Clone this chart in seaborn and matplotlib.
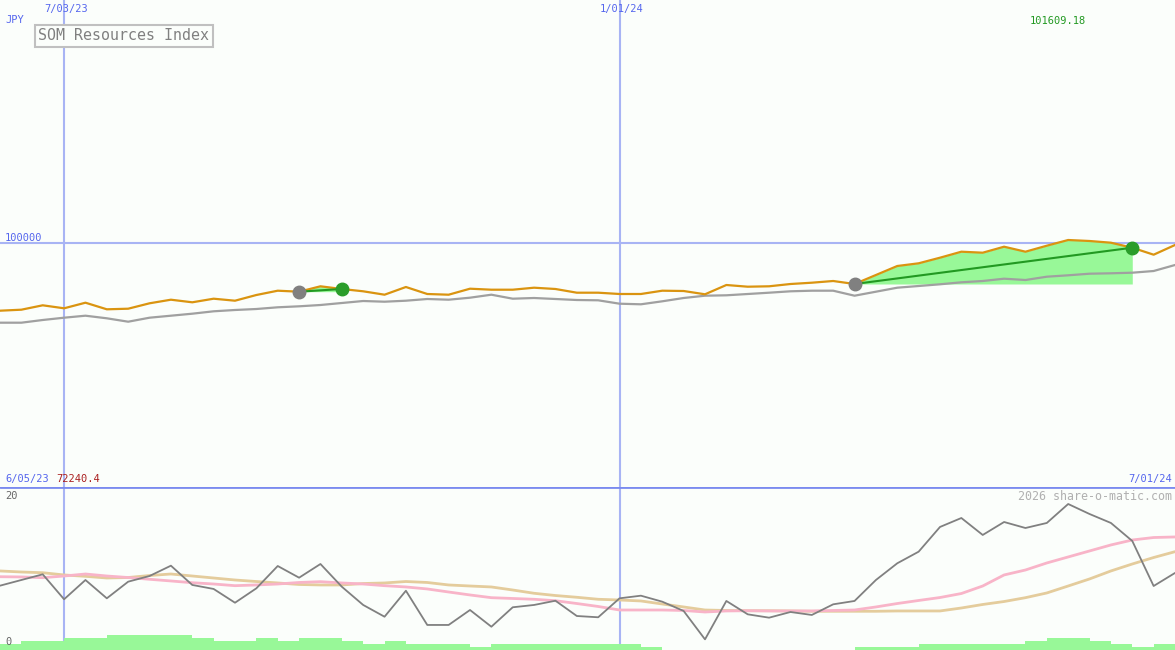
import numpy as np
import pandas as pd
import matplotlib
matplotlib.use("Agg")
import matplotlib.pyplot as plt
import seaborn as sns

# weekly points, 6/05/23 .. 7/01/24
weeks = list(range(56))

close = [92298, 92412, 92912, 92571, 93208, 92457, 92525, 93140, 93549, 93253,
         93663, 93435, 94084, 94573, 94459, 95074, 94767, 94505, 94118, 94994,
         94198, 94118, 94801, 94687, 94687, 94914, 94767, 94346, 94346, 94198,
         94198, 94573, 94539, 94164, 95222, 95028, 95074, 95335, 95483, 95677,
         95335, 96359, 97383, 97690, 98328, 99010, 98896, 99579, 99010, 99693,
         100341, 100228, 100034, 99465, 98669, 99772]

average = [90933, 90933, 91240, 91501, 91729, 91433, 91046, 91501, 91729, 91957,
           92230, 92378, 92491, 92685, 92798, 92946, 93174, 93401, 93321, 93435,
           93629, 93549, 93777, 94118, 93663, 93743, 93629, 93515, 93481, 93094,
           93026, 93367, 93743, 94004, 94050, 94198, 94346, 94505, 94573, 94573,
           94004, 94459, 94915, 95108, 95301, 95529, 95677, 95938, 95790, 96166,
           96325, 96507, 96553, 96621, 96814, 97497]

osc = [8.04, 8.75, 9.46, 6.34, 8.75, 6.46, 8.54, 9.25, 10.54, 8.13,
       7.63, 5.91, 7.71, 10.5, 9.04, 10.75, 7.91, 5.63, 4.16, 7.41,
       3.13, 3.13, 5.0, 2.91, 5.34, 5.63, 6.16, 4.25, 4.09, 6.46,
       6.79, 6.04, 4.88, 1.33, 6.13, 4.46, 4.04, 4.75, 4.38, 5.71,
       6.13, 8.75, 10.84, 12.29, 15.38, 16.5, 14.38, 16.0, 15.25, 15.88,
       18.25, 17.0, 15.88, 13.63, 8.0, 9.63]

osc_fast = [9.16, 9.13, 9.04, 9.25, 9.5, 9.25, 9.06, 8.84, 8.63, 8.41,
            8.25, 8.04, 8.13, 8.25, 8.44, 8.54, 8.38, 8.25, 8.04, 7.88,
            7.63, 7.25, 6.88, 6.54, 6.44, 6.34, 6.16, 5.81, 5.44, 5.0,
            5.0, 5.0, 4.94, 4.75, 4.88, 4.91, 4.88, 4.88, 4.88, 4.94,
            5.0, 5.38, 5.81, 6.19, 6.56, 7.06, 8.0, 9.38, 10.0, 10.88,
            11.63, 12.38, 13.13, 13.75, 14.06, 14.13]

osc_slow = [9.88, 9.75, 9.66, 9.38, 9.21, 9.0, 9.06, 9.31, 9.5, 9.25,
            9.0, 8.75, 8.56, 8.38, 8.19, 8.13, 8.13, 8.31, 8.38, 8.56,
            8.44, 8.13, 8.0, 7.88, 7.5, 7.09, 6.81, 6.59, 6.34, 6.25,
            6.13, 5.75, 5.38, 5.0, 4.94, 4.91, 4.91, 4.88, 4.84, 4.84,
            4.84, 4.84, 4.88, 4.88, 4.88, 5.25, 5.69, 6.06, 6.54, 7.13,
            8.0, 8.88, 9.88, 10.75, 11.56, 12.29]

volume = [0.75, 1.125, 1.125, 1.5, 1.5, 1.875, 1.875, 1.875, 1.875, 1.5,
          1.125, 1.125, 1.5, 1.125, 1.5, 1.5, 1.125, 0.75, 1.125, 0.75,
          0.75, 0.75, 0.375, 0.75, 0.75, 0.75, 0.75, 0.75, 0.75, 0.75,
          0.375, 0, 0, 0, 0, 0, 0, 0, 0, 0,
          0.375, 0.375, 0.375, 0.75, 0.75, 0.75, 0.75, 0.75, 1.125, 1.5,
          1.5, 1.125, 0.75, 0.375, 0.75]

buy_weeks = [14, 40]
sell_weeks = [16, 53]

grid_weeks = [3, 29]
grid_labels = ['7/03/23', '1/01/24']
price_level = 100000
price_min = 72240.4
price_top = 127646
last_label = '101609.18'

bg = '#fbfefb'
grid_col = '#a8b4f4'
blue_txt = '#5566ee'
W, H = 1175, 650

sns.set_style('white')
plt.rcParams['font.family'] = ['DejaVu Sans Mono', 'DejaVu Sans']

fig = plt.figure(figsize=(W / 100, H / 100), dpi=100, facecolor=bg)
ax = fig.add_axes([0, 163 / H, 1, 487 / H])
ax2 = fig.add_axes([0, 0, 1, 163 / H])

for a in (ax, ax2):
    a.set_facecolor(bg)
    a.set_xlim(0, 55)
    a.set_axis_off()
    for g in grid_weeks:
        a.axvline(g, color=grid_col, lw=1.5, zorder=1)

ax.set_ylim(price_min, price_top)
ax2.set_ylim(0, 163 / 8)

ax.axhline(price_level, color=grid_col, lw=1.5, zorder=1)

# signals: fill between entry level and price
for b, s in zip(buy_weeks, sell_weeks):
    xs = weeks[b:s + 1]
    ys = close[b:s + 1]
    ax.fill_between(xs, ys, close[b], where=[y >= close[b] for y in ys],
                    color='#98f898', lw=0, zorder=2)

sns.lineplot(x=weeks, y=average, ax=ax, color='#a0a0a0', lw=1.6, zorder=3)
sns.lineplot(x=weeks, y=close, ax=ax, color='#da9410', lw=1.6, zorder=4)

for b, s in zip(buy_weeks, sell_weeks):
    ax.plot([b, s], [close[b], close[s]], color='#229922', lw=1.5, zorder=5)
    ax.plot(b, close[b], 'o', color='#808080', ms=9, zorder=6)
    ax.plot(s, close[s], 'o', color='#2a9d2a', ms=9, zorder=6)

# lower panel
ax2.bar(weeks[:-1], volume, width=1, align='edge', color='#98f898', lw=0, zorder=2)
sns.lineplot(x=weeks, y=osc_slow, ax=ax2, color='#e4cc9c', lw=2, zorder=3)
sns.lineplot(x=weeks, y=osc_fast, ax=ax2, color='#f8b4c8', lw=2, zorder=3)
sns.lineplot(x=weeks, y=osc, ax=ax2, color='#808080', lw=1.3, zorder=4)
ax2.axhline(163 / 8, color='#7b8bef', lw=2, zorder=5)


def px(x, y):
    return x / W, 1 - y / H


fs = 7.5
for g, lab in zip(grid_weeks, grid_labels):
    fig.text(g / 55 + 2 / W, 1 - 9 / H, lab, color=blue_txt, fontsize=fs,
             ha='center', va='center')

fig.text(*px(5, 20), 'JPY', color=blue_txt, fontsize=fs, va='center')
fig.text(*px(5, 238), '100000', color=blue_txt, fontsize=fs, va='center')
fig.text(*px(1030, 21), last_label, color='#229922', fontsize=fs, va='center')
fig.text(*px(5, 479), '6/05/23', color=blue_txt, fontsize=fs, va='center')
fig.text(*px(56, 479), '72240.4', color='#aa2020', fontsize=fs, va='center')
fig.text(*px(1172, 479), '7/01/24', color=blue_txt, fontsize=fs, va='center', ha='right')
fig.text(*px(1172, 496), '2026 share-o-matic.com', color='#b0b0b0', fontsize=8.4,
         va='center', ha='right')
fig.text(*px(5, 496), '20', color='#666666', fontsize=fs, va='center')
fig.text(*px(5, 642), '0', color='#666666', fontsize=fs, va='center')

fig.text(*px(124, 36), 'SOM Resources Index', color='#808080', fontsize=10.8,
         ha='center', va='center',
         bbox=dict(boxstyle='square,pad=0.25', fc=bg, ec='#c0c0c0', lw=1.5))

fig.savefig('out.png', dpi=100, facecolor=bg)
